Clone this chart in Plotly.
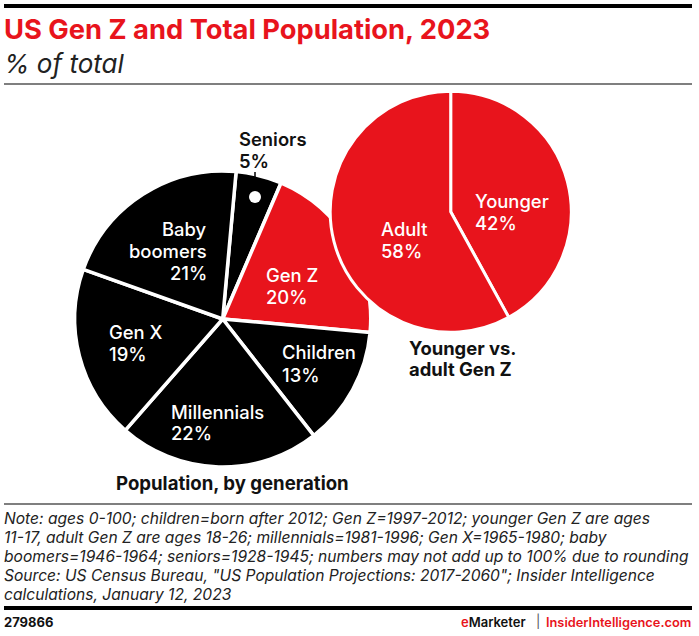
import plotly.graph_objects as go

W = 699
H = 636
RED = "#e8141c"
FONT = "Inter"

# population by generation, % of total
generations = ["Seniors", "Gen Z", "Children", "Millennials", "Gen X", "Baby boomers"]
generation_share = [5, 20, 13, 22, 19, 21]
generation_colors = ["#000000", RED, "#000000", "#000000", "#000000", "#000000"]

# split of gen z
genz_groups = ["Younger", "Adult"]
genz_share = [42, 58]

title = "US Gen Z and Total Population, 2023"
subtitle = "% of total"
note_lines = [
    "Note: ages 0-100; children=born after 2012; Gen Z=1997-2012; younger Gen Z are ages",
    "11-17, adult Gen Z are ages 18-26; millennials=1981-1996; Gen X=1965-1980; baby",
    "boomers=1946-1964; seniors=1928-1945; numbers may not add up to 100% due to rounding",
    "Source: US Census Bureau, \"US Population Projections: 2017-2060\"; Insider Intelligence",
    "calculations, January 12, 2023",
]


def domain(cx, cy, r):
    # pixel circle to paper domain
    return dict(x=[(cx - r) / W, (cx + r) / W], y=[1 - (cy + r) / H, 1 - (cy - r) / H])


def text(x, y, s, size=18.4, color="white", weight=500, anchor="left", style="normal"):
    return dict(
        x=x / W, y=1 - y / H, xref="paper", yref="paper", text=s, showarrow=False,
        xanchor=anchor, yanchor="middle", align=anchor,
        xshift=-2 if anchor == "left" else 1,
        font=dict(family=FONT, size=size, color=color, weight=weight, style=style),
    )


def rule(y, width, color):
    return dict(type="line", xref="paper", yref="paper", x0=4 / W, x1=692 / W,
                y0=1 - y / H, y1=1 - y / H, line=dict(color=color, width=width))


fig = go.Figure()
fig.add_trace(go.Pie(
    labels=generations, values=generation_share, sort=False, direction="clockwise",
    rotation=5.2, textinfo="none", hoverinfo="label+percent",
    marker=dict(colors=generation_colors, line=dict(color="white", width=3.5)),
    domain=domain(222.7, 319, 148), showlegend=False,
))
fig.add_trace(go.Pie(
    labels=genz_groups, values=genz_share, sort=False, direction="clockwise",
    rotation=0, textinfo="none", hoverinfo="label+percent",
    marker=dict(colors=[RED, RED], line=dict(color="white", width=3)),
    domain=domain(450.7, 211.7, 120.5), showlegend=False,
))

notes = [text(4, y, s, size=15.6, color="#222222", weight=400, style="italic")
         for y, s in zip([518, 537, 556, 575, 594], note_lines)]

annotations = [
    text(4, 29, title, size=27.3, color=RED, weight=700),
    text(4, 63, subtitle, size=26, color="#222222", weight=400, style="italic"),
    text(239, 139, "Seniors", color="#111111", weight=600),
    text(239, 161, "5%", color="#111111", weight=600),
    text(208, 229, "Baby", anchor="right"),
    text(208, 251, "boomers", anchor="right"),
    text(208, 273, "21%", anchor="right"),
    text(266, 275, "Gen Z"),
    text(266, 297, "20%"),
    text(282, 352, "Children"),
    text(282, 375, "13%"),
    text(171, 412, "Millennials"),
    text(171, 433, "22%"),
    text(109, 332, "Gen X"),
    text(109, 354, "19%"),
    text(381, 229, "Adult"),
    text(381, 251, "58%"),
    text(475, 201, "Younger"),
    text(475, 223, "42%"),
    text(409, 348, "Younger vs.", color="#111111", weight=700),
    text(409, 369, "adult Gen Z", color="#111111", weight=700),
    text(116, 483, "Population, by generation", size=18.6, color="#111111", weight=700),
    text(4, 622, "279866", size=13, color="#111111", weight=700),
    text(461, 622, f"<span style=\"color:{RED}\">e</span>Marketer", size=13, color="#111111", weight=600),
    text(536, 621, "|", size=13, color="#555555", weight=400),
    text(692, 622, "InsiderIntelligence.com", size=12.8, color=RED, weight=600, anchor="right"),
] + notes

shapes = [
    rule(6, 4, "black"),
    rule(84, 1.5, "#555555"),
    rule(504, 1.5, "#555555"),
    rule(608, 4, "black"),
    # seniors callout
    dict(type="line", xref="paper", yref="paper", x0=255 / W, x1=255 / W,
         y0=1 - 172 / H, y1=1 - 197 / H, line=dict(color="black", width=1.5)),
    dict(type="circle", xref="paper", yref="paper", x0=249 / W, x1=261 / W,
         y0=1 - 203 / H, y1=1 - 191 / H, fillcolor="white", line=dict(width=0)),
]

fig.update_layout(
    width=W, height=H, margin=dict(l=0, r=0, t=0, b=0),
    paper_bgcolor="white", plot_bgcolor="white",
    annotations=annotations, shapes=shapes,
)

# the browser's default body margin would push the chart off the page
fig.write_html("out.html", config=dict(displayModeBar=False),
               post_script="document.body.style.margin = '0';")
